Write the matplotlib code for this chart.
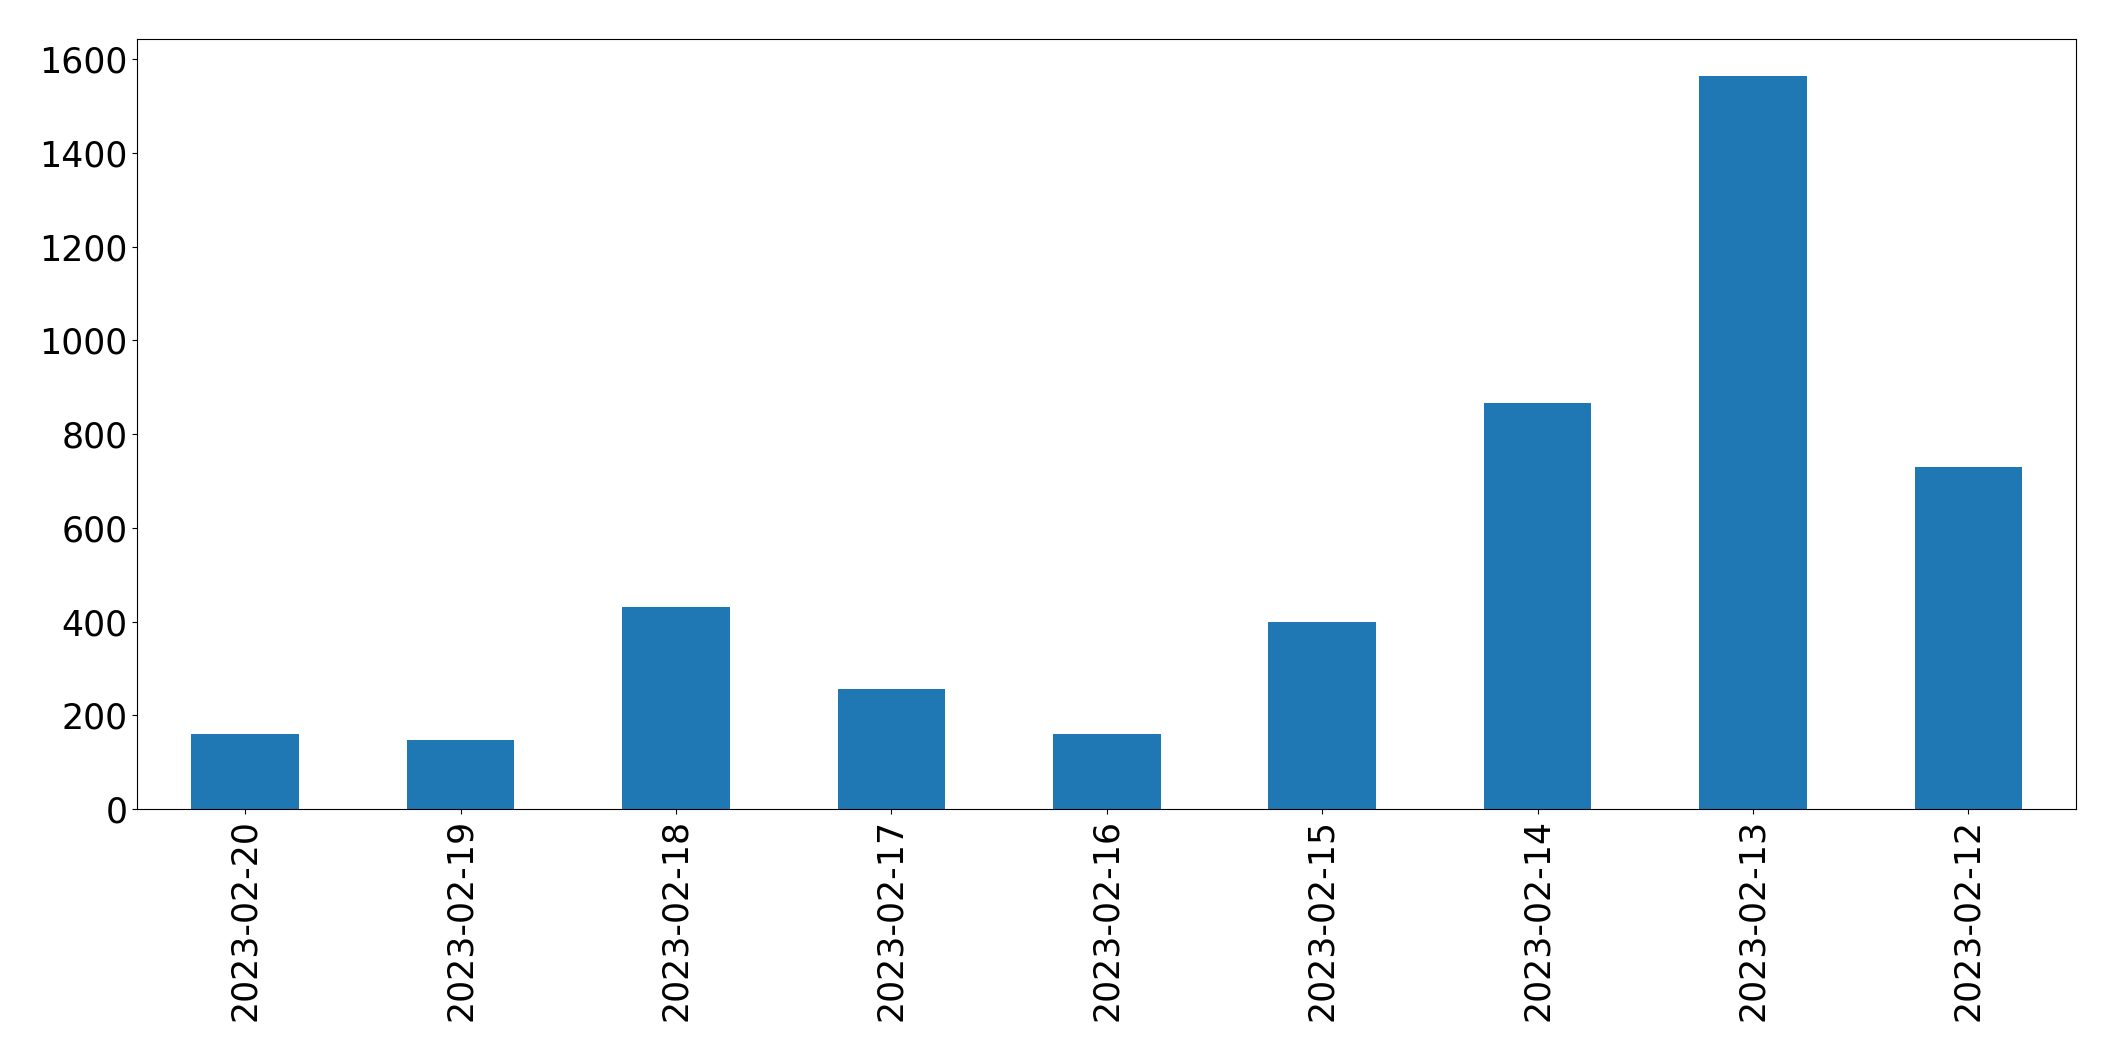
import matplotlib
matplotlib.use("Agg")
import matplotlib.pyplot as plt

dates = ["2023-02-20", "2023-02-19", "2023-02-18", "2023-02-17", "2023-02-16",
         "2023-02-15", "2023-02-14", "2023-02-13", "2023-02-12"]
counts = [161, 148, 432, 256, 159, 398, 867, 1564, 729]

fig = plt.figure(figsize=(21.15, 10.61), dpi=100)
ax = fig.add_axes([0.065, 0.2375, 0.9166, 0.7255])
x = list(range(len(dates)))
ax.bar(x, counts, width=0.5, color="#1f77b4")
ax.set_xlim(-0.5, len(dates) - 0.5)
ax.set_xticks(x)
ax.set_xticklabels(dates, rotation=90)
ax.tick_params(axis="both", labelsize=25)
fig.savefig("out.png", dpi=100)
